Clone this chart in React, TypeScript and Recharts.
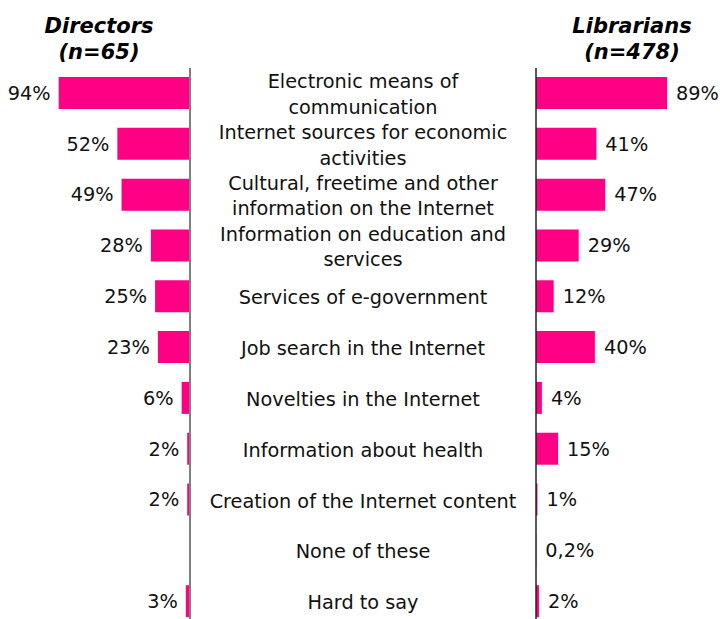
import { BarChart, Bar, XAxis, YAxis, LabelList } from "recharts";

const categories = [
  "Electronic means of\ncommunication",
  "Internet sources for economic\nactivities",
  "Cultural, freetime and other\ninformation on the Internet",
  "Information on education and\nservices",
  "Services of e-government",
  "Job search in the Internet",
  "Novelties in the Internet",
  "Information about health",
  "Creation of the Internet content",
  "None of these",
  "Hard to say",
];
const directors = [94, 52, 49, 28, 25, 23, 6, 2, 2, null, 3];
const librarians = [89, 41, 47, 29, 12, 40, 4, 15, 1, 0.2, 2];

const data = categories.map((label, i) => ({
  label,
  directors: directors[i],
  librarians: librarians[i],
}));

const PINK = "#FF0084";
const FONT = "'DejaVu Sans', Verdana, sans-serif";
const fmt = (v: any) => (v == null ? "" : String(v).replace(".", ",") + "%");

// category text, centred in the gap between the two axes
function CategoryTick(props: any) {
  const { y, payload } = props;
  const lines = String(payload.value).split("\n");
  const lh = 25.5;
  return (
    <text x={173} y={y} textAnchor="middle" fontSize={19.3} fill="#111" fontFamily={FONT}>
      {lines.map((ln, i) => (
        <tspan key={i} x={173} dy={i === 0 ? -((lines.length - 1) * lh) / 2 + 7.6 : lh}>
          {ln}
        </tspan>
      ))}
    </text>
  );
}

const headStyle: React.CSSProperties = {
  position: "absolute",
  fontFamily: FONT,
  fontWeight: "bold",
  fontStyle: "italic",
  fontSize: 21,
  lineHeight: "26px",
  textAlign: "center",
  color: "#000",
};

export default function App() {
  return (
    <div style={{ position: "absolute", left: 0, top: 0, width: 720, height: 640, background: "#fff" }}>
      <div style={{ ...headStyle, left: 19, top: 13, width: 160 }}>
        Directors
        <br />
        (n=65)
      </div>
      <div style={{ ...headStyle, left: 552, top: 13, width: 160 }}>
        Librarians
        <br />
        (n=478)
      </div>

      <div style={{ position: "absolute", left: 0, top: 0 }}>
        <BarChart
          width={191}
          height={640}
          data={data}
          layout="vertical"
          barSize={32}
          margin={{ top: 68, right: 0, left: 0, bottom: 13 }}
        >
          <XAxis type="number" domain={[0, 136]} reversed hide />
          <YAxis
            type="category"
            dataKey="label"
            orientation="right"
            width={1}
            tick={false}
            tickLine={false}
            axisLine={{ stroke: "#808080", strokeWidth: 2 }}
          />
          <Bar dataKey="directors" fill={PINK} isAnimationActive={false}>
            <LabelList
              dataKey="directors"
              position="right"
              offset={8}
              formatter={fmt}
              style={{ fontSize: 19.3, fill: "#111", fontFamily: FONT }}
            />
          </Bar>
        </BarChart>
      </div>

      <div style={{ position: "absolute", left: 190, top: 0 }}>
        <BarChart
          width={530}
          height={640}
          data={data}
          layout="vertical"
          barSize={32}
          margin={{ top: 68, right: 0, left: 0, bottom: 13 }}
        >
          <XAxis type="number" domain={[0, 125]} hide />
          <YAxis
            type="category"
            dataKey="label"
            width={346}
            tickLine={false}
            tickSize={0}
            interval={0}
            tick={<CategoryTick />}
            axisLine={{ stroke: "#222", strokeWidth: 1.5 }}
          />
          <Bar dataKey="librarians" fill={PINK} isAnimationActive={false}>
            <LabelList
              dataKey="librarians"
              position="right"
              offset={9}
              formatter={fmt}
              style={{ fontSize: 19.3, fill: "#111", fontFamily: FONT }}
            />
          </Bar>
        </BarChart>
      </div>
    </div>
  );
}
